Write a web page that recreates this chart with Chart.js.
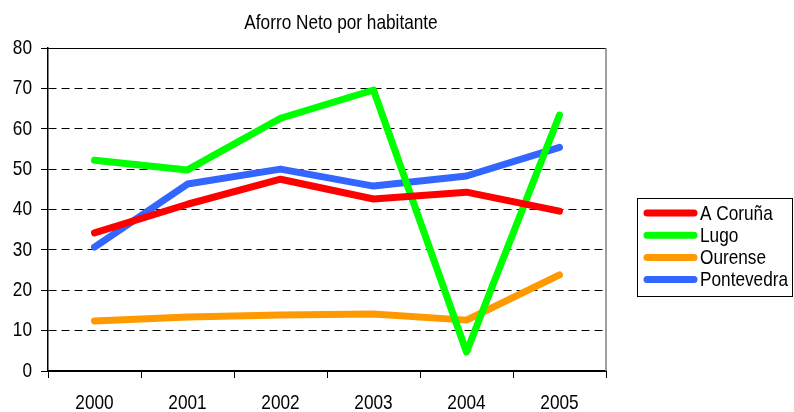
<!DOCTYPE html>
<html><head><meta charset="utf-8">
<script src="https://cdn.jsdelivr.net/npm/chart.js@4/dist/chart.umd.min.js"></script>
<style>html,body{margin:0;padding:0;background:#fff;}#wrap{width:794px;height:412px;}</style>
</head><body><div id="wrap"><canvas id="c" width="794" height="412"></canvas></div>
<script>
const chartTitle = 'Aforro Neto por habitante';
const years = ['2000', '2001', '2002', '2003', '2004', '2005'];
const seriesNames = ['A Coruña', 'Lugo', 'Ourense', 'Pontevedra'];
const coruna = [34.2, 41.3, 47.5, 42.6, 44.3, 39.6];
const lugo = [52.2, 49.8, 62.6, 69.6, 4.7, 63.4];
const ourense = [12.4, 13.4, 13.9, 14.1, 12.6, 23.8];
const pontevedra = [30.7, 46.3, 50.0, 45.8, 48.3, 55.4];
const yMin = 0, yMax = 80, yStep = 10;

const FONT = "'Liberation Sans', Arial, sans-serif";
const NARROW = 0.82; // emulate Arial Narrow by condensing Liberation Sans horizontally
const FS = 21;
const colors = ['#ff0000', '#00ff00', '#ff9900', '#3366ff'];
const values = [coruna, lugo, ourense, pontevedra];

const canvas = document.getElementById('c');
const g = canvas.getContext('2d');
const origFill = g.fillText.bind(g);
const origMeasure = g.measureText.bind(g);
g.fillText = function (text, x, y, maxWidth) {
  g.save();
  g.translate(x, y);
  g.scale(NARROW, 1);
  if (maxWidth !== undefined) origFill(text, 0, 0, maxWidth / NARROW); else origFill(text, 0, 0);
  g.restore();
};
g.measureText = function (text) {
  const m = origMeasure(text);
  return {width: m.width * NARROW, actualBoundingBoxAscent: m.actualBoundingBoxAscent, actualBoundingBoxDescent: m.actualBoundingBoxDescent};
};

const framePlugin = {
  id: 'frame',
  afterDraw(chart) {
    const {ctx, chartArea: a} = chart;
    ctx.save();
    ctx.strokeStyle = '#000';
    ctx.lineWidth = 1;
    ctx.beginPath();
    ctx.moveTo(a.left, Math.round(a.top) + 0.5);
    ctx.lineTo(a.right, Math.round(a.top) + 0.5);
    ctx.stroke();
    ctx.strokeStyle = '#808080';
    ctx.lineWidth = 1.5;
    ctx.beginPath();
    ctx.moveTo(Math.round(a.right), a.top);
    ctx.lineTo(Math.round(a.right), a.bottom);
    ctx.stroke();
    ctx.fillStyle = '#000';
    ctx.font = FS + 'px ' + FONT;
    ctx.textAlign = 'center';
    ctx.textBaseline = 'alphabetic';
    ctx.fillText(chartTitle, 341, 29);
    const lx = 637.5, ly = 198.5, lw = 155, lh = 98;
    ctx.strokeStyle = '#000';
    ctx.lineWidth = 1;
    ctx.strokeRect(lx, ly, lw, lh);
    chart.data.datasets.forEach((ds, i) => {
      const y = 213 + i * 22.2;
      ctx.strokeStyle = ds.borderColor;
      ctx.lineWidth = 7;
      ctx.lineCap = 'round';
      ctx.beginPath();
      ctx.moveTo(647, y);
      ctx.lineTo(694, y);
      ctx.stroke();
      ctx.fillStyle = '#000';
      ctx.textAlign = 'left';
      ctx.textBaseline = 'middle';
      ctx.fillText(ds.label, 700, y + 1);
    });
    ctx.restore();
  }
};

new Chart(canvas, {
  type: 'line',
  data: {
    labels: years,
    datasets: seriesNames.map((n, i) => ({
      label: n,
      data: values[i],
      borderColor: colors[i],
      backgroundColor: colors[i],
      borderWidth: 7,
      pointRadius: 0,
      pointHoverRadius: 0,
      tension: 0,
      borderCapStyle: 'round',
      borderJoinStyle: 'round',
      fill: false
    }))
  },
  options: {
    responsive: false,
    animation: false,
    devicePixelRatio: 1,
    layout: {padding: {left: 0, right: 188, top: 48, bottom: 0}},
    plugins: {legend: {display: false}, title: {display: false}, tooltip: {enabled: false}},
    scales: {
      x: {
        type: 'category',
        offset: true,
        grid: {offset: true, drawOnChartArea: false, drawTicks: true, tickLength: 7, color: '#000', tickColor: '#000', lineWidth: 1},
        border: {display: true, color: '#000', width: 2},
        ticks: {color: '#000', font: {family: FONT, size: FS}, padding: 13, maxRotation: 0, autoSkip: false},
        afterFit(s) { s.height = 41; }
      },
      y: {
        min: yMin, max: yMax,
        grid: {
          color: (c) => c.tick && c.tick.value === yMax ? 'rgba(0,0,0,0)' : '#000',
          tickColor: '#000',
          lineWidth: 1,
          tickLength: 7,
          drawTicks: true
        },
        border: {display: true, color: '#000', width: 1.5, dash: (c) => (c.tick && (c.tick.value === 0 || c.tick.value === yMax)) ? [] : [8, 5]},
        ticks: {stepSize: yStep, color: '#000', font: {family: FONT, size: FS}, padding: 9},
        afterFit(s) { s.width = 48; }
      }
    }
  },
  plugins: [framePlugin]
});
</script>
</body></html>
